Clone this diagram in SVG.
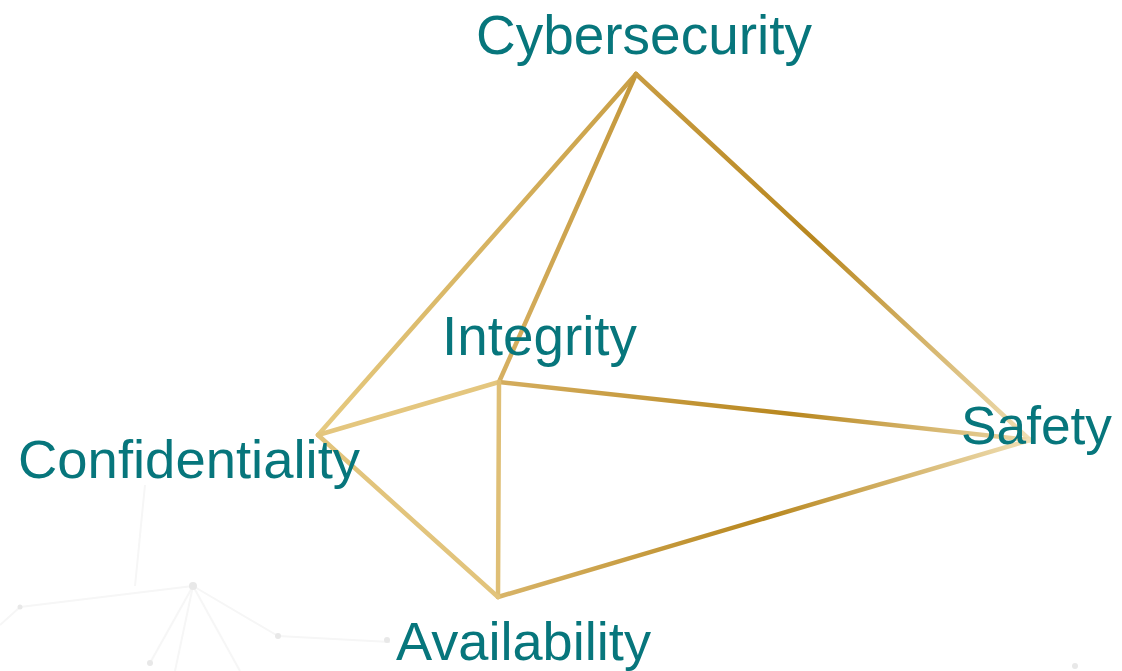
<svg xmlns="http://www.w3.org/2000/svg" width="1122" height="671" viewBox="0 0 1122 671">
<style>
.lbl{font-family:"Liberation Sans",Arial,sans-serif;fill:#07767c;}
.edge{fill:none;stroke-width:4.5;stroke-linecap:round;stroke-linejoin:round;}
.bg line{stroke:#f6f6f6;stroke-width:2;}
.bg circle{fill:#e8e8e8;}
</style>
<defs>
<linearGradient id="gAC" gradientUnits="userSpaceOnUse" x1="636" y1="74" x2="318" y2="435"><stop offset="0" stop-color="#c99f45"/><stop offset="1" stop-color="#e6ca80"/></linearGradient>
<linearGradient id="gAI" gradientUnits="userSpaceOnUse" x1="636" y1="74" x2="499" y2="382"><stop offset="0" stop-color="#c4983c"/><stop offset="1" stop-color="#d6b062"/></linearGradient>
<linearGradient id="gAS" gradientUnits="userSpaceOnUse" x1="636" y1="74" x2="1030" y2="440"><stop offset="0" stop-color="#c89c42"/><stop offset="0.45" stop-color="#b8871f"/><stop offset="1" stop-color="#f0dfb4"/></linearGradient>
<linearGradient id="gIS" gradientUnits="userSpaceOnUse" x1="499" y1="382" x2="1030" y2="440"><stop offset="0" stop-color="#d4ad5e"/><stop offset="0.55" stop-color="#b8871f"/><stop offset="1" stop-color="#ecd8a8"/></linearGradient>
<linearGradient id="gVS" gradientUnits="userSpaceOnUse" x1="498" y1="597" x2="1030" y2="440"><stop offset="0" stop-color="#d8b468"/><stop offset="0.5" stop-color="#b8871f"/><stop offset="1" stop-color="#f0dfb4"/></linearGradient>
</defs>
<rect width="1122" height="671" fill="#ffffff"/>
<g class="bg" id="background">
<line x1="20" y1="607" x2="193" y2="586"/>
<line x1="193" y1="586" x2="278" y2="636"/>
<line x1="193" y1="586" x2="150" y2="663"/>
<line x1="193" y1="586" x2="175" y2="671"/>
<line x1="278" y1="636" x2="390" y2="642"/>
<line x1="193" y1="586" x2="240" y2="671"/>
<line x1="0" y1="625" x2="20" y2="607"/>
<line x1="145" y1="485" x2="135" y2="586"/>
<circle cx="193" cy="586" r="4"/>
<circle cx="278" cy="636" r="3"/>
<circle cx="20" cy="607" r="2.5"/>
<circle cx="150" cy="663" r="3"/>
<circle cx="387" cy="640" r="3"/>
<circle cx="1075" cy="666" r="3"/>
</g>
<g id="connectors">
<line class="edge" x1="636" y1="74" x2="318" y2="435" stroke="url(#gAC)"/>
<line class="edge" x1="636" y1="74" x2="499" y2="382" stroke="url(#gAI)"/>
<line class="edge" x1="636" y1="74" x2="1030" y2="440" stroke="url(#gAS)"/>
<line class="edge" x1="499" y1="382" x2="1030" y2="440" stroke="url(#gIS)"/>
<line class="edge" x1="498" y1="597" x2="1030" y2="440" stroke="url(#gVS)"/>
<line class="edge" x1="318" y1="435" x2="499" y2="382" stroke="#e4c67e"/>
<line class="edge" x1="499" y1="382" x2="498" y2="597" stroke="#dfbf76"/>
<line class="edge" x1="318" y1="435" x2="498" y2="597" stroke="#e2c47c"/>
</g>
<g id="node-cybersecurity"><text class="lbl" x="476" y="54" font-size="55" textLength="336" lengthAdjust="spacingAndGlyphs">Cybersecurity</text></g>
<g id="node-integrity"><text class="lbl" x="442" y="355" font-size="55" textLength="195" lengthAdjust="spacingAndGlyphs">Integrity</text></g>
<g id="node-confidentiality"><text class="lbl" x="18" y="478" font-size="54" textLength="342" lengthAdjust="spacingAndGlyphs">Confidentiality</text></g>
<g id="node-safety"><text class="lbl" x="961" y="444" font-size="54" textLength="151" lengthAdjust="spacingAndGlyphs">Safety</text></g>
<g id="node-availability"><text class="lbl" x="396" y="660" font-size="53" textLength="255" lengthAdjust="spacingAndGlyphs">Availability</text></g>
</svg>
